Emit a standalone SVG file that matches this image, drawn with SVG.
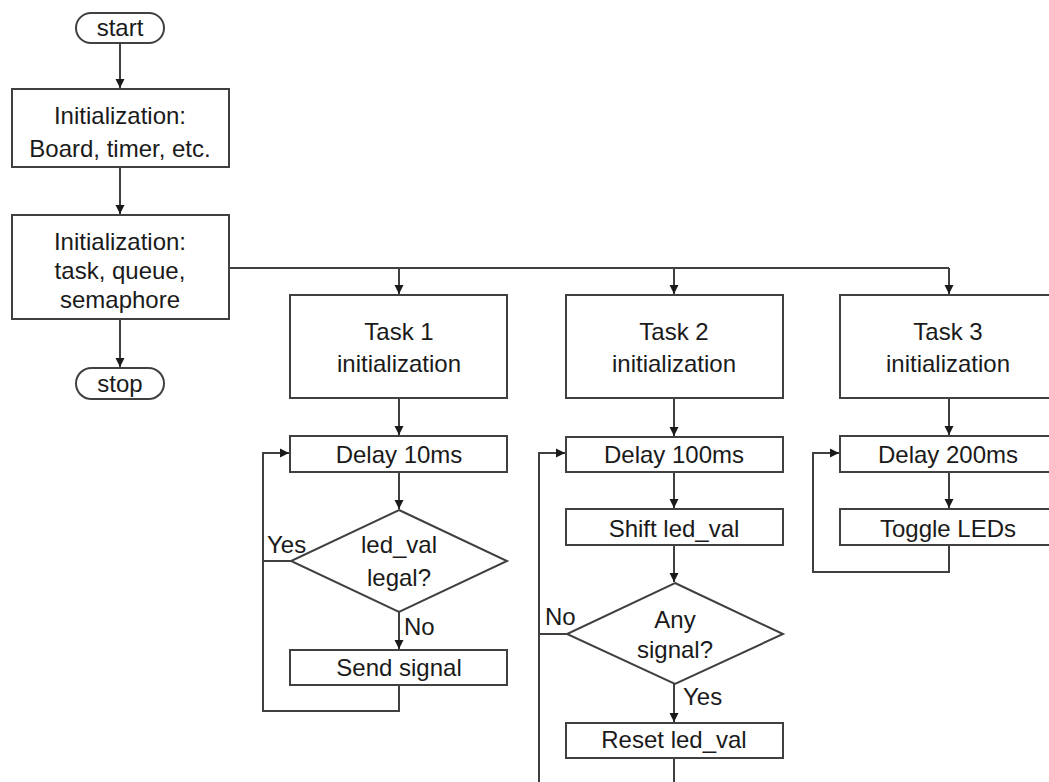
<svg xmlns="http://www.w3.org/2000/svg" width="1049" height="782" viewBox="0 0 1049 782">
<style>
.box{fill:#fff;stroke:#404040;stroke-width:2}
.ln{fill:none;stroke:#404040;stroke-width:2}
.t{font-family:"Liberation Sans",Arial,sans-serif;font-size:24px;fill:#1a1a1a;text-anchor:middle}
.l{font-family:"Liberation Sans",Arial,sans-serif;font-size:24px;fill:#1a1a1a}
</style>
<defs>
<marker id="ah" markerWidth="10" markerHeight="10" refX="9" refY="5" orient="auto" markerUnits="userSpaceOnUse">
<path d="M0,0.5 L9,5 L0,9.5 Z" fill="#1a1a1a"/>
</marker>
</defs>
<rect width="1049" height="782" fill="#fff"/>
<g id="connectors">
<path class="ln" d="M120,43 V88" marker-end="url(#ah)"/>
<path class="ln" d="M120,167 V214" marker-end="url(#ah)"/>
<path class="ln" d="M120,319 V367" marker-end="url(#ah)"/>
<path class="ln" d="M229,268 H949"/>
<path class="ln" d="M399,268 V294" marker-end="url(#ah)"/>
<path class="ln" d="M674,268 V294" marker-end="url(#ah)"/>
<path class="ln" d="M949,268 V294" marker-end="url(#ah)"/>
<path class="ln" d="M399,398 V435" marker-end="url(#ah)"/>
<path class="ln" d="M399,472 V509" marker-end="url(#ah)"/>
<path class="ln" d="M399,612 V649" marker-end="url(#ah)"/>
<path class="ln" d="M291,561 H263 V453 H289" marker-end="url(#ah)"/>
<path class="ln" d="M399,685 V711 H263 V561"/>
<path class="ln" d="M674,398 V436" marker-end="url(#ah)"/>
<path class="ln" d="M674,472 V508" marker-end="url(#ah)"/>
<path class="ln" d="M674,545 V582" marker-end="url(#ah)"/>
<path class="ln" d="M674,684 V722" marker-end="url(#ah)"/>
<path class="ln" d="M567,634 H539"/>
<path class="ln" d="M539,782 V453 H565" marker-end="url(#ah)"/>
<path class="ln" d="M674,758 V782"/>
<path class="ln" d="M949,398 V435" marker-end="url(#ah)"/>
<path class="ln" d="M949,472 V508" marker-end="url(#ah)"/>
<path class="ln" d="M949,545 V572 H813 V453 H839" marker-end="url(#ah)"/>
</g>
<g id="start"><rect class="box" x="76" y="13" width="88" height="30" rx="15"/><text class="t" x="120" y="36">start</text></g>
<g id="init1"><rect class="box" x="12" y="89" width="217" height="78"/><text class="t" x="120" y="124">Initialization:</text><text class="t" x="120" y="157">Board, timer, etc.</text></g>
<g id="init2"><rect class="box" x="12" y="215" width="217" height="104"/><text class="t" x="120" y="250">Initialization:</text><text class="t" x="120" y="279">task, queue,</text><text class="t" x="120" y="308">semaphore</text></g>
<g id="stop"><rect class="box" x="76" y="368" width="88" height="31" rx="15.5"/><text class="t" x="120" y="392">stop</text></g>
<g id="task1"><rect class="box" x="290" y="295" width="217" height="103"/><text class="t" x="399" y="340">Task 1</text><text class="t" x="399" y="372">initialization</text></g>
<g id="delay10"><rect class="box" x="290" y="436" width="217" height="36"/><text class="t" x="399" y="463">Delay 10ms</text></g>
<g id="legal"><polygon class="box" points="399,510 507,561 399,612 291,561"/><text class="t" x="399" y="553">led_val</text><text class="t" x="399" y="586">legal?</text></g>
<g id="send"><rect class="box" x="290" y="650" width="217" height="35"/><text class="t" x="399" y="676">Send signal</text></g>
<g id="task2"><rect class="box" x="566" y="295" width="217" height="103"/><text class="t" x="674" y="340">Task 2</text><text class="t" x="674" y="372">initialization</text></g>
<g id="delay100"><rect class="box" x="566" y="437" width="217" height="35"/><text class="t" x="674" y="463">Delay 100ms</text></g>
<g id="shift"><rect class="box" x="566" y="509" width="217" height="36"/><text class="t" x="674" y="537">Shift led_val</text></g>
<g id="anysig"><polygon class="box" points="675,583 783,634 675,684 567,634"/><text class="t" x="675" y="628">Any</text><text class="t" x="675" y="658">signal?</text></g>
<g id="reset"><rect class="box" x="566" y="723" width="217" height="35"/><text class="t" x="674" y="748">Reset led_val</text></g>
<g id="task3"><rect class="box" x="840" y="295" width="217" height="103"/><text class="t" x="948" y="340">Task 3</text><text class="t" x="948" y="372">initialization</text></g>
<g id="delay200"><rect class="box" x="840" y="436" width="217" height="36"/><text class="t" x="948" y="463">Delay 200ms</text></g>
<g id="toggle"><rect class="box" x="840" y="509" width="217" height="36"/><text class="t" x="948" y="537">Toggle LEDs</text></g>
<g id="labels">
<text class="l" x="267" y="553">Yes</text>
<text class="l" x="404" y="635">No</text>
<text class="l" x="545" y="625">No</text>
<text class="l" x="683" y="705">Yes</text>
</g>
</svg>
